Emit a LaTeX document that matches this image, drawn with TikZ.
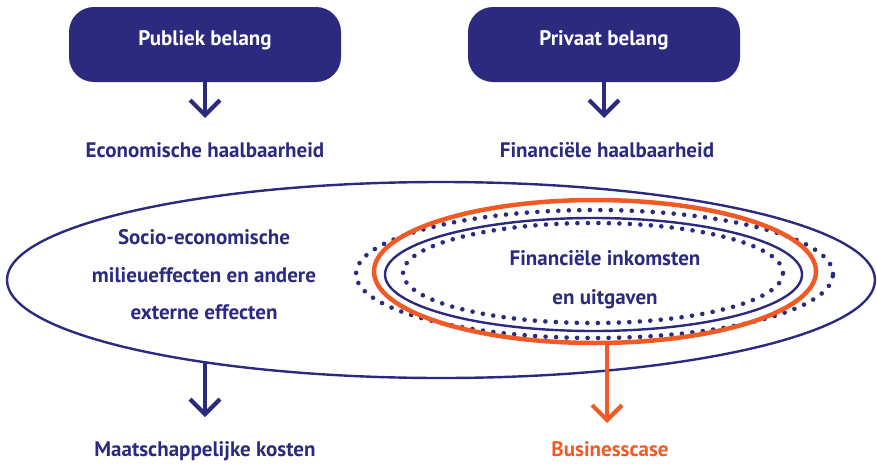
\documentclass[tikz,border=0pt]{standalone}
\usepackage{fontspec}
\setmainfont{PT Sans}
\usetikzlibrary{shapes.geometric,arrows.meta}
\definecolor{navy}{RGB}{43,42,126}
\definecolor{orng}{RGB}{241,90,36}
\begin{document}
\begin{tikzpicture}[x=1pt,y=-1pt,
  txt/.style={font=\fontsize{21}{25}\selectfont\bfseries, inner sep=0pt, anchor=base},
  box/.style={fill=navy, draw=none, rounded corners=25pt, minimum width=272pt, minimum height=75pt,
    text=white, font=\fontsize{21}{25}\selectfont\bfseries, text height=15pt, text depth=14pt, inner sep=0pt},
  navyarr/.style={draw=navy, line width=4.2pt, -{Straight Barb[length=15pt,width=30pt]}},
  orarr/.style={draw=orng, line width=4.2pt, -{Straight Barb[length=15pt,width=30pt]}},
  ell/.style={ellipse, inner sep=0pt, draw=navy, line width=2.4pt},
  dots/.style={ellipse, inner sep=0pt, draw=navy, line width=4.6pt, line cap=round, dash pattern=on 0pt off 10.5pt},
]
\useasboundingbox (0,0) rectangle (877,463);

% top boxes
\node[box] (pub) at (205,44.5) {Publiek belang};
\node[box] (priv) at (604,44.5) {Privaat belang};
\node[txt, text=navy] (eco) at (205,157) {Economische haalbaarheid};
\node[txt, text=navy] (fin) at (607,157) {Financiële haalbaarheid};
\coordinate (t1) at (205,118);
\coordinate (t2) at (604,118);
\draw[navyarr] (pub.south) -- (t1);
\draw[navyarr] (priv.south) -- (t2);

% big ellipse
\node[ell, minimum width=868pt, minimum height=196pt] (big) at (441,280) {};
\node[txt, text=navy] (soc1) at (204,244) {Socio-economische};
\node[txt, text=navy] (soc2) at (204,282) {milieueffecten en andere};
\node[txt, text=navy] (soc3) at (204,319) {externe effecten};

% nested ellipses
\node[dots, minimum width=477pt, minimum height=128pt] (dout) at (594.5,274) {};
\node[ellipse, inner sep=0pt, draw=orng, line width=4.5pt, minimum width=442pt, minimum height=143pt] (bc) at (595,271.5) {};
\node[ell, minimum width=417pt, minimum height=113pt] (fin2) at (593.5,274.5) {};
\node[dots, minimum width=380pt, minimum height=100pt] (din) at (593,273) {};
\node[txt, text=navy] (ink1) at (605,265) {Financiële inkomsten};
\node[txt, text=navy] (ink2) at (605,304) {en uitgaven};

% bottom arrows
\coordinate (s3) at (205,362);
\coordinate (t3) at (205,417);
\draw[navyarr] (s3) -- (t3);
\coordinate (s4) at (607,343);
\coordinate (t4) at (607,423);
\draw[orarr] (s4) -- (t4);
\node[txt, text=navy] (maat) at (205,456.5) {Maatschappelijke kosten};
\node[txt, text=orng] (bus) at (610,456.5) {Businesscase};
\end{tikzpicture}
\end{document}
